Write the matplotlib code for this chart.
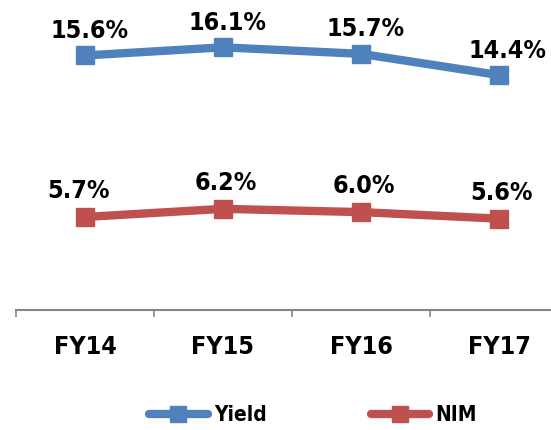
import matplotlib.pyplot as plt

# Yield vs NIM data
years = ["FY14", "FY15", "FY16", "FY17"]
yield_pct = [15.6, 16.1, 15.7, 14.4]
nim_pct = [5.7, 6.2, 6.0, 5.6]

blue = "#4F81BD"
red = "#C0504D"
font = ["DejaVu Sans"]
txt = dict(family=font, fontweight="bold", fontstretch="condensed")

fig = plt.figure(figsize=(5.51, 4.30), dpi=100)
ax = fig.add_axes([16 / 551, 1 - 310 / 430, 552 / 551, 310 / 430])

x = range(len(years))
ax.plot(x, yield_pct, color=blue, lw=6, marker="s", ms=13, label="Yield")
ax.plot(x, nim_pct, color=red, lw=6, marker="s", ms=13, label="NIM")

# data labels above markers (small horizontal nudges like the original)
yield_dx = [3, 3, 3, 6]
nim_dx = [-5, 2, 2, 2]
for i, v in enumerate(yield_pct):
    ax.annotate(f"{v:.1f}%", (i, v), xytext=(yield_dx[i], 9), textcoords="offset points",
                ha="center", va="bottom", fontsize=18, **txt)
for i, v in enumerate(nim_pct):
    ax.annotate(f"{v:.1f}%", (i, v), xytext=(nim_dx[i], 10), textcoords="offset points",
                ha="center", va="bottom", fontsize=18, **txt)

ax.set_xlim(-0.5, 3.5)
ax.set_ylim(0, 19)
ax.set_yticks([])

ax.set_xticks(list(x))
ax.set_xticklabels(years, fontsize=18, **txt)
ax.set_xticks([-0.5, 0.5, 1.5, 2.5, 3.5], minor=True)
ax.tick_params(axis="x", which="major", length=0, pad=18)
ax.tick_params(axis="x", which="minor", length=5, width=1.2, color="#868686")

for s in ["top", "right", "left"]:
    ax.spines[s].set_visible(False)
ax.spines["bottom"].set_color("#868686")
ax.spines["bottom"].set_linewidth(1.5)

leg = fig.legend(loc="center", bbox_to_anchor=(313 / 551, 1 - 415 / 430), ncol=2,
                 frameon=False, handlelength=2.8, columnspacing=5.0, handletextpad=0.3,
                 prop={"family": font, "weight": "bold", "stretch": "condensed", "size": 15})
for line in leg.get_lines():
    line.set_linewidth(6)
    line.set_markersize(12)
    line.set_solid_capstyle("round")

fig.savefig("out.png", dpi=100)
